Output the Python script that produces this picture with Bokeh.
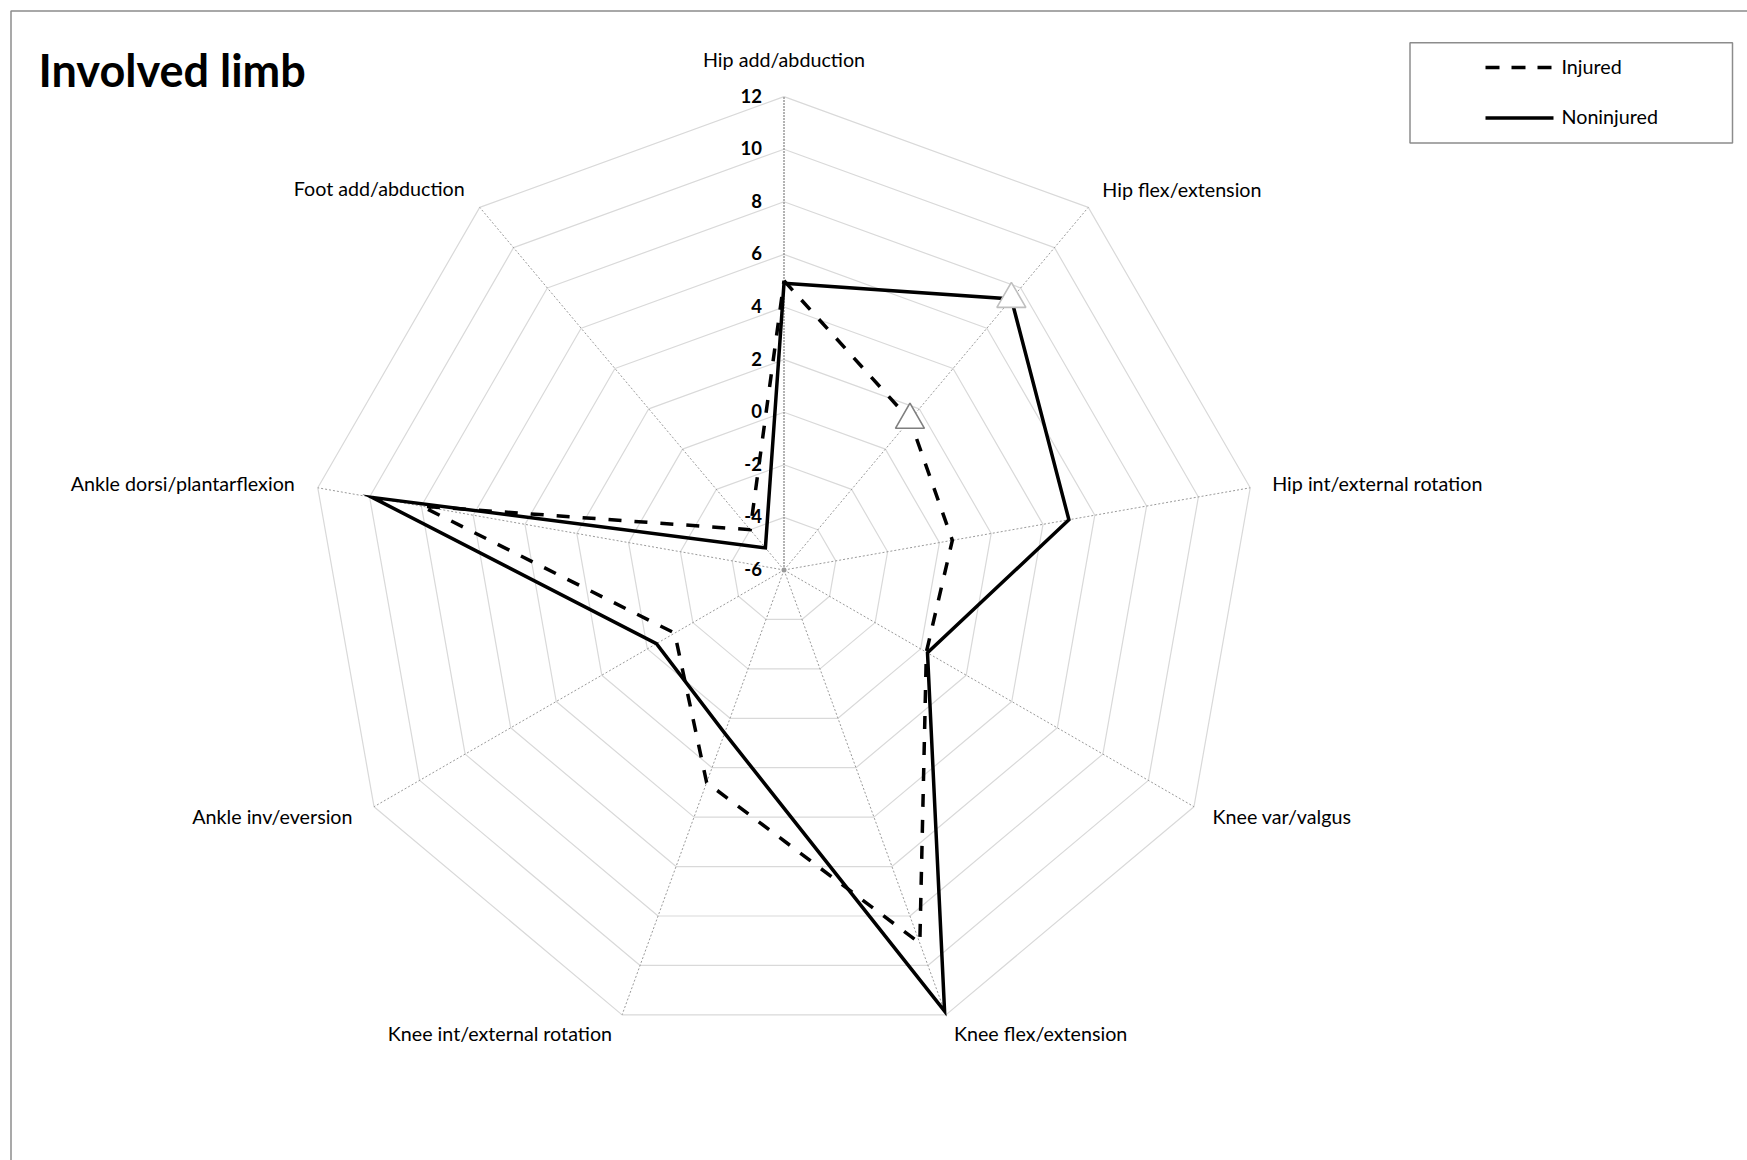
import numpy as np
from bokeh.plotting import figure
from bokeh.models import Range1d
from bokeh.core.properties import value
from bokeh.embed import file_html
from bokeh.resources import INLINE

# ---------------- data ----------------
categories = [
    "Hip add/abduction",
    "Hip flex/extension",
    "Hip int/external rotation",
    "Knee var/valgus",
    "Knee flex/extension",
    "Knee int/external rotation",
    "Ankle inv/eversion",
    "Ankle dorsi/plantarflexion",
    "Foot add/abduction",
]
injured = [5.0, 1.45, 0.5, 0.25, 9.1, 2.6, -1.2, 8.0, -4.0]
noninjured = [4.9, 7.45, 5.0, 0.3, 11.85, 0.6, -0.4, 9.9, -4.9]
ticks = [-6, -4, -2, 0, 2, 4, 6, 8, 10, 12]
tick_labels = [str(t) for t in ticks]
marked_category = "Hip flex/extension"
series_names = ["Injured", "Noninjured"]
title = "Involved limb"

# ---------------- layout ----------------
W, H = 1747, 1160
R_PX = 473.4
CX, CY = 783.5, 569.5
R_MIN, R_MAX = ticks[0], ticks[-1]
FONT = value("Lato")

n = len(categories)
angles = np.deg2rad(90 - 360.0 / n * np.arange(n))


def polar(vals):
    r = (np.asarray(vals, dtype=float) - R_MIN) / (R_MAX - R_MIN)
    return r * np.cos(angles), r * np.sin(angles)


def dx(px):
    return (px - CX) / R_PX


def dy(py):
    return (CY - py) / R_PX


p = figure(
    width=W, height=H,
    x_range=Range1d(dx(0), dx(W)), y_range=Range1d(dy(H), dy(0)),
    output_backend="svg", toolbar_location=None, min_border=0,
    x_axis_type=None, y_axis_type=None,
)
p.grid.visible = False
p.outline_line_color = None
p.background_fill_color = "white"
p.border_fill_color = "white"

# chart frame (top and left visible)
p.line(x=[dx(10.5), dx(10.5), dx(W + 20)], y=[dy(H + 20), dy(10.5), dy(10.5)],
       line_color="#8c8c8c", line_width=1.5)

# rings
ring_xs, ring_ys = [], []
for t in ticks[1:]:
    rr = (t - R_MIN) / (R_MAX - R_MIN)
    ring_xs.append(list(rr * np.cos(np.append(angles, angles[0]))))
    ring_ys.append(list(rr * np.sin(np.append(angles, angles[0]))))
p.multi_line(xs=ring_xs, ys=ring_ys, line_color="#d9d9d9", line_width=1.2)

# spokes
sp_xs = [[0, np.cos(a)] for a in angles[1:]]
sp_ys = [[0, np.sin(a)] for a in angles[1:]]
p.multi_line(xs=sp_xs, ys=sp_ys, line_color="#9a9a9a", line_width=1, line_dash="2 2")
p.line(x=[0, np.cos(angles[0])], y=[0, np.sin(angles[0])], line_color="#8a8a8a",
       line_width=1.3, line_dash="2 1")
p.scatter(x=[0], y=[0], size=5, fill_color="#999999", line_color=None)

# value-axis tick labels
p.text(x=[0] * len(ticks), y=[(t - R_MIN) / (R_MAX - R_MIN) for t in ticks], text=tick_labels,
       x_offset=-22, y_offset=-1, text_align="right", text_baseline="middle", text_font=FONT,
       text_font_style="bold", text_font_size="18.5px", text_color="black")

# category labels
label_align = ["center", "left", "left", "left", "left", "right", "right", "right", "right"]
label_dx = [0, 14, 22, 18.5, 8, -10, -21.5, -23, -15]
label_dy = [-37.5, -17.5, -4.5, 9.5, 18.5, 18.5, 9.5, -4.5, -18.5]
for i, c in enumerate(categories):
    p.text(x=[np.cos(angles[i])], y=[np.sin(angles[i])], text=[c],
           x_offset=label_dx[i], y_offset=label_dy[i], text_align=label_align[i],
           text_baseline="middle", text_font=FONT, text_font_size="19.7px", text_color="black")

# series
DASH = "13 13"
ix, iy = polar(injured)
nx, ny = polar(noninjured)
p.line(x=np.append(ix, ix[0]), y=np.append(iy, iy[0]), line_color="black", line_width=3.5,
       line_dash=DASH, line_join="miter")
p.line(x=np.append(nx, nx[0]), y=np.append(ny, ny[0]), line_color="black", line_width=3.5,
       line_join="miter")

k = categories.index(marked_category)
p.scatter(x=[ix[k]], y=[iy[k]], marker="triangle", size=29, fill_color="white",
          line_color="#7f7f7f", line_width=1.6)
p.scatter(x=[nx[k]], y=[ny[k]], marker="triangle", size=29, fill_color="white",
          line_color="#bfbfbf", line_width=1.6)

# title
p.text(x=[dx(38)], y=[dy(69)], text=[title], text_align="left", text_baseline="middle",
       text_font=FONT, text_font_style="bold", text_font_size="45px", text_color="black")

# legend
p.quad(left=[dx(1409.5)], right=[dx(1732)], top=[dy(42.2)], bottom=[dy(142.4)],
       fill_color="white", line_color="#8c8c8c", line_width=1.5)
p.line(x=[dx(1485), dx(1553)], y=[dy(67), dy(67)], line_color="black", line_width=3.5,
       line_dash="14 12")
p.line(x=[dx(1485), dx(1553)], y=[dy(117.5), dy(117.5)], line_color="black", line_width=3.5)
p.text(x=[dx(1561), dx(1561)], y=[dy(65.5), dy(116)], text=series_names, text_align="left",
       text_baseline="middle", text_font=FONT, text_font_size="19.7px", text_color="black")

open("out.html", "w").write(file_html(p, INLINE))
